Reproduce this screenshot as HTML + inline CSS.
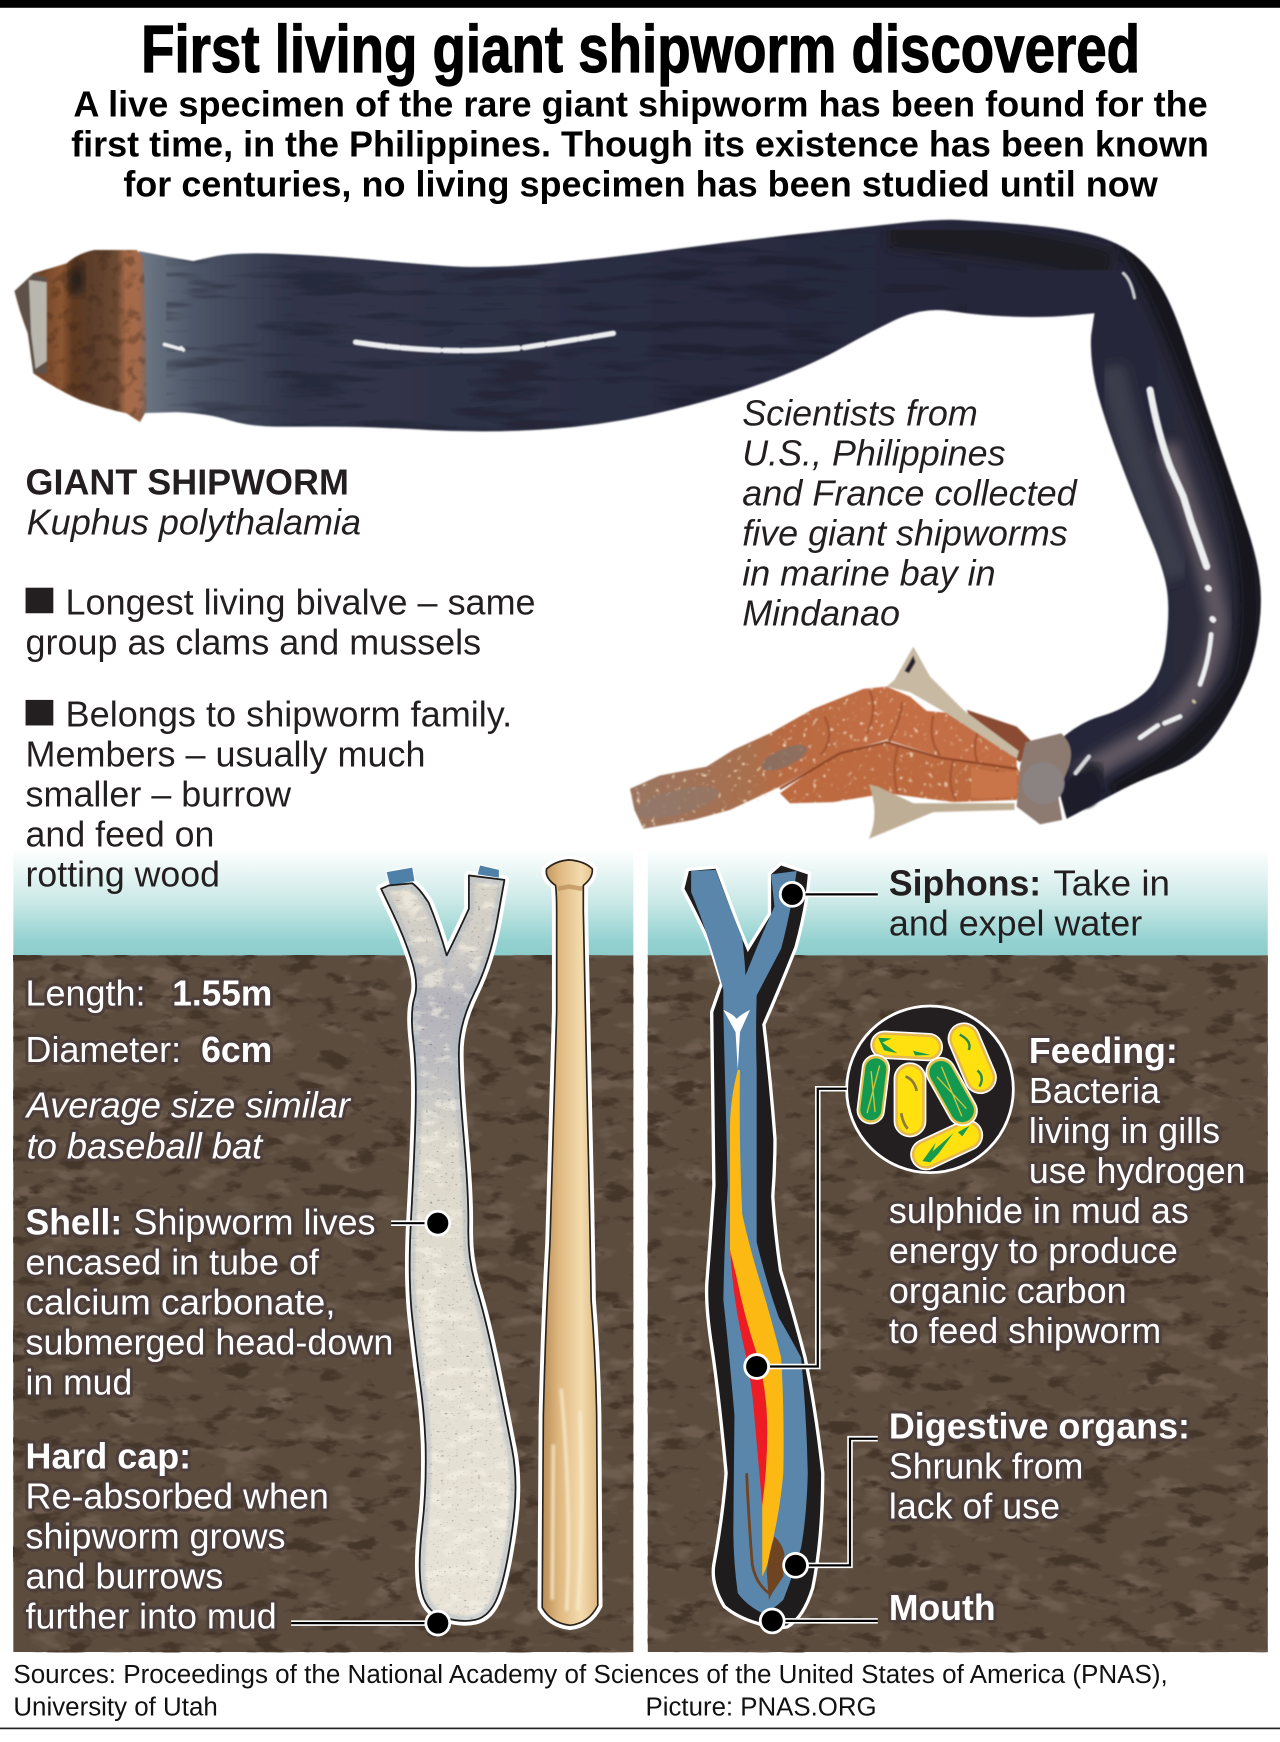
<!DOCTYPE html>
<html><head><meta charset="utf-8"><style>
html,body{margin:0;padding:0;background:#fff}
svg{display:block}
text{font-family:"Liberation Sans",sans-serif;font-size:32.5px;fill:#231f20}
.b{font-weight:bold}.i{font-style:italic}
.w text{fill:#fff;stroke:#4d3f3b;stroke-width:5.5px;paint-order:stroke;stroke-linejoin:round}
.f text{font-size:23.5px;fill:#111}
</style></head><body>
<svg width="1280" height="1742" viewBox="0 0 1152 1568" xmlns="http://www.w3.org/2000/svg" preserveAspectRatio="none">
<defs>
<linearGradient id="sky" x1="0" y1="0" x2="0" y2="1"><stop offset="0" stop-color="#fff"/><stop offset=".5" stop-color="#c8e8e6"/><stop offset=".85" stop-color="#94d2d1"/><stop offset="1" stop-color="#8ccccb"/></linearGradient>
<linearGradient id="body" gradientUnits="userSpaceOnUse" x1="125" y1="0" x2="1130" y2="0"><stop offset="0" stop-color="#6f7a86"/><stop offset=".05" stop-color="#4e5668"/><stop offset=".13" stop-color="#33374b"/><stop offset=".45" stop-color="#2b2d42"/><stop offset=".8" stop-color="#25263a"/><stop offset="1" stop-color="#2b2b3a"/></linearGradient>
<linearGradient id="cap" gradientUnits="userSpaceOnUse" x1="40" y1="0" x2="132" y2="0"><stop offset="0" stop-color="#7a4a2c"/><stop offset=".17" stop-color="#8c5733"/><stop offset=".28" stop-color="#5f3a22"/><stop offset=".44" stop-color="#5c3d2a"/><stop offset=".71" stop-color="#6d4a33"/><stop offset=".8" stop-color="#a86c48"/><stop offset=".92" stop-color="#a46a4c"/><stop offset="1" stop-color="#7d6a62"/></linearGradient>
<linearGradient id="bat" x1="0" y1="0" x2="1" y2="0"><stop offset="0" stop-color="#b98d57"/><stop offset=".3" stop-color="#dfb87f"/><stop offset=".7" stop-color="#f3dbae"/><stop offset="1" stop-color="#ddb880"/></linearGradient>
<linearGradient id="shellg" x1="0" y1="0" x2="0" y2="1"><stop offset="0" stop-color="#d9d5c8"/><stop offset=".1" stop-color="#cfccc6"/><stop offset=".17" stop-color="#b3b2ba"/><stop offset=".25" stop-color="#bcbcc0"/><stop offset=".36" stop-color="#dcd8cb"/><stop offset=".7" stop-color="#e4dfd3"/><stop offset="1" stop-color="#e8e3d7"/></linearGradient>
<linearGradient id="gill" gradientUnits="userSpaceOnUse" x1="567" y1="0" x2="800" y2="0"><stop offset="0" stop-color="#9a7562"/><stop offset=".45" stop-color="#a8704f"/><stop offset=".6" stop-color="#b96b42"/><stop offset="1" stop-color="#c46e45"/></linearGradient>
<filter id="soil" x="0" y="0" width="100%" height="100%" color-interpolation-filters="sRGB"><feTurbulence type="fractalNoise" baseFrequency=".035 .075" numOctaves="4" seed="7"/><feColorMatrix values="0 0 0 0 .27  0 0 0 0 .21  0 0 0 0 .165  6 0 0 0 -3.4"/></filter>
<filter id="soil2" x="0" y="0" width="100%" height="100%" color-interpolation-filters="sRGB"><feTurbulence type="fractalNoise" baseFrequency=".03 .06" numOctaves="3" seed="21"/><feColorMatrix values="0 0 0 0 .43  0 0 0 0 .365  0 0 0 0 .31  0 5 0 0 -2.8"/></filter>
<filter id="spk" x="0" y="0" width="100%" height="100%" color-interpolation-filters="sRGB"><feTurbulence type="fractalNoise" baseFrequency=".3 .5" numOctaves="2" seed="4"/><feColorMatrix values="0 0 0 0 .35  0 0 0 0 .33  0 0 0 0 .3  5 0 0 0 -3.3"/></filter>
<filter id="mot" x="0" y="0" width="100%" height="100%" color-interpolation-filters="sRGB"><feTurbulence type="fractalNoise" baseFrequency=".05 .1" numOctaves="3" seed="11"/><feColorMatrix values="0 0 0 0 .97  0 0 0 0 .95  0 0 0 0 .9  0 5 0 0 -2.6"/></filter>
<filter id="wst" x="0" y="0" width="100%" height="100%" color-interpolation-filters="sRGB"><feTurbulence type="fractalNoise" baseFrequency=".012 .09" numOctaves="3" seed="3"/><feColorMatrix values="0 0 0 0 .09  0 0 0 0 .09  0 0 0 0 .14  5 0 0 0 -2.6"/></filter>
<filter id="gsp" x="0" y="0" width="100%" height="100%" color-interpolation-filters="sRGB"><feTurbulence type="fractalNoise" baseFrequency=".22" numOctaves="2" seed="9"/><feColorMatrix values="0 0 0 0 .92  0 0 0 0 .82  0 0 0 0 .68  7 0 0 0 -4.6"/></filter>
<filter id="cn" x="0" y="0" width="100%" height="100%" color-interpolation-filters="sRGB"><feTurbulence type="fractalNoise" baseFrequency=".09" numOctaves="3" seed="5"/><feColorMatrix values="0 0 0 0 .2  0 0 0 0 .12  0 0 0 0 .08  5 0 0 0 -2.6"/></filter>
<filter id="s05"><feGaussianBlur stdDeviation=".6"/></filter>
<filter id="bl"><feGaussianBlur stdDeviation="1"/></filter>
<filter id="bl4"><feGaussianBlur stdDeviation="5"/></filter>
<path id="wormp" d="M125 226Q150 231 174 235Q192 231 192 231Q210 227 252 228.5Q294 230 330.5 233.5Q367 237 404 239.5Q441 242 496 237Q551 232 606 224.5Q661 217 716 211Q771 205 808 201Q845 197 863.5 198Q882 199 919.5 202Q957 205 979.5 210.5Q1002 216 1017 226.5Q1032 237 1044 256.5Q1056 276 1068 313.5Q1080 351 1096.5 399Q1113 447 1122 474Q1131 501 1133.5 520.5Q1136 540 1133.5 561Q1131 582 1125 600Q1119 618 1105.5 642Q1092 666 1080 676.5Q1068 687 1047 694.5Q1026 702 1011 710Q996 718 960 737L950 700L955 665Q972 650 991.5 644.5Q1011 639 1028 625.5Q1045 612 1049 582Q1053 552 1050.5 532.5Q1048 513 1034.5 481.5Q1021 450 1005.5 408Q990 366 985.5 343.5Q981 321 982 302L985 282L963 284Q942 286 912 285Q882 284 856 280Q830 276 804.5 288.5Q779 301 757 313.5Q735 326 698 340.5Q661 355 606 368.5Q551 382 496 386Q441 390 386 387Q331 384 300 384L250 384Q225 384 205.5 378Q186 372 159 371L125 372Z"/>
<path id="capp" d="M123 225L85 225Q70 228 60 237L30 246L13 262Q18 282 25 300L30 336Q50 350 72 360Q95 368 114 372L126 380L132 369Q132 300 129 232Z"/>
<path id="shp" d="M343 800L353.5 822Q364 844 370.5 864.5Q377 885 373 898Q369 911 372 937Q375 963 374 1002Q373 1041 370 1095.5Q367 1150 371 1186Q375 1222 378.5 1248Q382 1274 383 1300Q384 1340 380 1374Q376 1408 379 1429Q382 1450 398.5 1455.5Q415 1461 428 1458Q441 1455 448 1437Q455 1419 461 1377.5Q467 1336 461 1305Q455 1274 446 1230Q437 1186 429 1160Q421 1134 421.5 1105.5Q422 1077 417.5 1025Q413 973 413 947.5Q413 922 427 893.5Q441 865 447.5 828.5L454 792L422 788L422 818Q412 840 402 860Q395 835 386 813Q378 800 371 795L350 797Z"/>
<path id="batp" d="M492 782Q500 775 512 774Q526 775 533 782Q534 790 525 797Q525 805 525 820L529 1015Q531 1100 532 1170Q536 1220 537 1274L538 1445Q530 1461 513 1463Q496 1461 488 1447L489 1274Q491 1190 495 1118L501 911L501 820Q501 805 500 797Q490 790 492 782Z"/>
<clipPath id="shc"><use href="#shp"/></clipPath>
<clipPath id="wm"><use href="#wormp"/></clipPath>
<clipPath id="cpc"><use href="#capp"/></clipPath>
<clipPath id="gc"><path d="M567 710L594 698L636 690L660 675L693 660L732 638L777 620L798 618L819 627L834 640L858 642L879 654L915 684L921 702L915 720L858 722L798 714L750 722L711 723L702 714L657 729L624 738L579 746L571 729Z"/></clipPath>
</defs>
<rect width="1152" height="1568" fill="#fff"/>
<rect width="1152" height="7" fill="#000"/>

<!-- headline -->
<text x="127" y="65" class="b" style="font-size:60px;fill:#000;stroke:#000;stroke-width:1.1px" textLength="899" lengthAdjust="spacingAndGlyphs">First living giant shipworm discovered</text>
<text x="66" y="105" textLength="1021" lengthAdjust="spacingAndGlyphs" style="fill:#000;font-weight:bold">A live specimen of the rare giant shipworm has been found for the</text>
<text x="64" y="141" textLength="1024" lengthAdjust="spacingAndGlyphs" style="fill:#000;font-weight:bold">first time, in the Philippines. Though its existence has been known</text>
<text x="111" y="177" textLength="931" lengthAdjust="spacingAndGlyphs" style="fill:#000;font-weight:bold">for centuries, no living specimen has been studied until now</text>

<!-- worm photo -->
<g filter="url(#s05)">
<path d="M870 639L915 654L930 669L918 686L880 660Z" fill="#8a4c30"/>
<path d="M567 710L594 698L636 690L660 675L693 660L732 638L777 620L798 618L819 627L834 640L858 642L879 654L915 684L915 693L888 690L846 681L798 666L756 678L702 708L657 729L624 738L579 746L571 729Z" fill="url(#gill)"/>
<path d="M702 714L753 677L798 669L846 681L915 690L921 702L915 720L858 722L798 714L750 722L711 723Z" fill="#bd6a40"/>
<g clip-path="url(#gc)"><rect x="560" y="610" width="370" height="145" filter="url(#gsp)"/></g>
<ellipse cx="706" cy="682" rx="22" ry="8" fill="#7f6f68" opacity=".75" transform="rotate(-24 706 682)"/>
<ellipse cx="610" cy="722" rx="38" ry="11" fill="#8d7a6e" opacity=".6" transform="rotate(-14 610 722)"/>
<path d="M702 710L756 678L798 668L846 682L915 692" fill="none" stroke="#8e4526" stroke-width="2"/>
<path d="M783 622Q790 640 780 660M812 632Q810 650 800 668M840 644Q835 665 846 680M880 658Q875 672 880 688M808 672Q802 695 808 714M858 684Q852 705 860 720M898 692Q892 708 898 720M742 645Q752 665 738 680" fill="none" stroke="#a0512c" stroke-width="2.2" opacity=".8"/>
<path d="M874 690Q895 697 915 694L915 716Q895 720 874 718Z" fill="#c97448"/>
<path d="M822 582L805 612L798 618L819 623L852 642L915 683L917 676L867 639L837 609Z" fill="#c8b9a2"/>
<path d="M822 590L814 604L818 606L824 596Z" fill="#2b2230"/>
<path d="M782 706L790 708L822 723L913 723L913 729L840 731L782 755Q792 732 782 706Z" fill="#bfae96"/>
<use href="#wormp" fill="url(#body)"/>
<g clip-path="url(#wm)">
<rect x="150" y="195" width="720" height="200" filter="url(#wst)" opacity=".35"/>
<path d="M1015 215Q1050 270 1095 400Q1140 520 1118 610Q1085 670 1000 715" fill="none" stroke="#14151d" stroke-width="22" filter="url(#bl4)"/>
<path d="M800 210Q930 220 1000 240" fill="none" stroke="#1a1b24" stroke-width="28" filter="url(#bl4)"/>
<path d="M1050 400Q1090 510 1096 560Q1090 620 1040 660Q1000 680 970 700" fill="none" stroke="#5f5660" stroke-width="20" filter="url(#bl4)"/>
<path d="M1000 330Q1020 420 1060 520" fill="none" stroke="#3b3c4c" stroke-width="24" filter="url(#bl4)"/>
<path d="M990 690Q965 715 958 735" fill="none" stroke="#1b1c28" stroke-width="22" filter="url(#bl4)"/>
</g>
<path d="M923 668L955 660Q968 672 962 690L952 715L956 738L936 742L915 726L918 690Z" fill="#8d7a70"/>
<circle cx="939" cy="705" r="19" fill="#8b8282"/>
<circle cx="975" cy="712" r="16" fill="#1d1e2c" filter="url(#bl)"/>
<use href="#capp" fill="url(#cap)"/>
<g clip-path="url(#cpc)">
<rect x="10" y="220" width="125" height="165" filter="url(#cn)" opacity=".3"/>
<path d="M13 262L30 246L42 250L42 337L30 336L25 300Z" fill="#5d5148"/>
<path d="M26 252L42 254L42 325L32 332L28 300Z" fill="#b9b6ae"/>
<ellipse cx="69" cy="252" rx="7" ry="14" fill="#241b1c" filter="url(#bl4)"/>
</g>
</g>
<g fill="none" stroke="#eceeef" stroke-linecap="round" filter="url(#s05)">
<path d="M320 308Q400 320 470 313Q510 307 552 300" stroke-width="5" stroke-dasharray="26 3 10 3 34 4 14 3 50 5 18 4"/>
<path d="M148 310l14 4M163 313l2 2" stroke-width="3.5"/>
<path d="M1011 246Q1018 252 1021 268" stroke-width="3" stroke="#c9cbd0"/>
<path d="M1035 351Q1042 390 1053 420L1065 447L1072 470L1086 510" stroke-width="6.5"/>
<path d="M1087 529l1 1M1091 557l1 1" stroke-width="5.5"/>
<path d="M1090 571Q1088 595 1080 616" stroke-width="4.5"/>
<path d="M1074 631l1 1" stroke-width="3" stroke="#c9c09a"/>
<path d="M1062 645L1048 651M1042 653L1026 664" stroke-width="4.5"/>
<path d="M980 681L968 696" stroke-width="4" stroke="#d5d6da"/>
</g>

<!-- panels -->
<rect x="12" y="765" width="558" height="96" fill="url(#sky)"/>
<rect x="583" y="765" width="558" height="96" fill="url(#sky)"/>
<rect x="12" y="860" width="558" height="627" fill="#5b4c3e"/>
<rect x="12" y="860" width="558" height="627" filter="url(#soil2)"/>
<rect x="12" y="860" width="558" height="627" filter="url(#soil)"/>
<rect x="583" y="860" width="558" height="627" fill="#5b4c3e"/>
<rect x="583" y="860" width="558" height="627" filter="url(#soil2)"/>
<rect x="583" y="860" width="558" height="627" filter="url(#soil)"/>

<!-- shell -->
<use href="#shp" fill="none" stroke="#fff" stroke-width="8.5" stroke-linejoin="round"/>
<path d="M348 785L371 781L373 793L351 797Z" fill="#4f80a8" stroke="#fff" stroke-width="2" paint-order="stroke"/>
<path d="M432 779L449 783L449 790L430 787Z" fill="#4f80a8" stroke="#fff" stroke-width="2" paint-order="stroke"/>
<use href="#shp" fill="url(#shellg)"/>
<g clip-path="url(#shc)">
<rect x="340" y="775" width="130" height="695" filter="url(#mot)" opacity=".6"/>
<rect x="340" y="775" width="130" height="695" filter="url(#spk)" opacity=".45"/>
<use href="#shp" fill="none" stroke="#a9b5c2" stroke-width="10" filter="url(#bl)" opacity=".45"/>
</g>
<use href="#shp" fill="none" stroke="#1d1d1d" stroke-width="1.6" stroke-linejoin="round"/>

<!-- bat -->
<use href="#batp" fill="none" stroke="#fff" stroke-width="8.5" stroke-linejoin="round"/>
<use href="#batp" fill="url(#bat)"/>
<path d="M505 1250Q515 1360 510 1450M522 1270Q526 1360 520 1450M498 1300L497 1440" fill="none" stroke="#f8ecd0" stroke-width="3.5" opacity=".7" filter="url(#bl)"/>
<path d="M502 800L512 798L524 800" fill="none" stroke="#b98d57" stroke-width="4" opacity=".7"/>
<use href="#batp" fill="none" stroke="#2a231c" stroke-width="1.5" stroke-linejoin="round"/>

<!-- right worm -->
<path d="M616 800L620 784L644 782L665 838L673 857L694 823L694 787L703 779L727 787Q725 815 715 852Q700 890 686 922Q692 972 696 1025Q696 1050 694 1077Q696 1110 701 1144Q712 1180 723 1222Q733 1270 739 1326Q739 1385 730 1429Q722 1455 708 1463Q695 1465 683 1460Q665 1455 653 1445Q641 1425 644 1408Q652 1365 655 1326Q648 1250 641 1205Q636 1170 638 1150Q642 1100 644 1067L642 911L651 885Q645 865 640 849Q628 822 616 800Z" fill="#1f1c1e" stroke="#fff" stroke-width="6" stroke-linejoin="round" paint-order="stroke"/>
<path d="M622 784L644 783Q656 815 668 844Q670 862 671 878Q684 845 697 816L694 787L717 784Q712 820 703 854Q692 875 681 896Q680 930 681 963L681 1118Q690 1155 701 1186Q712 1205 721 1222Q726 1275 727 1326Q726 1365 721 1393Q713 1420 705 1440Q695 1450 686 1452Q672 1445 664 1434Q660 1405 660 1377L661 1274Q656 1215 651 1170Q652 1115 655 1067L651 911L651 891Q644 865 637 844Q630 822 622 803Z" fill="#5a86ab"/>
<path d="M664 963Q657 990 657 1015L657 1129Q664 1180 675 1222Q682 1250 686 1274L686 1419Q692 1408 694 1393Q702 1360 705 1326Q706 1270 703 1222Q695 1190 686 1160Q675 1125 668 1093Q665 1030 666 963Z" fill="#fdb913"/>
<path d="M657 1125Q660 1170 668 1205Q676 1240 678 1265Q682 1310 686 1355Q692 1310 690 1270Q688 1240 680 1215Q670 1185 663 1150Z" fill="#ed1c24"/>
<path d="M651 909Q660 913 663 917Q667 913 675 909L666 929L664 963L662 929Z" fill="#fff"/>
<path d="M692 1440L690 1414Q692 1398 697 1383Q703 1388 706 1398L705 1419L695 1434Z" fill="#6e4423"/>
<path d="M672 1326Q674 1370 677 1408Q680 1425 692 1434" fill="none" stroke="#6e4423" stroke-width="2.5"/>

<!-- bacteria -->
<circle cx="837" cy="980.5" r="75" fill="#231f20" stroke="#fff" stroke-width="2.5"/>
<g>
<g transform="translate(816 941.5) rotate(3)"><rect x="-32" y="-12" width="64" height="24" rx="12" fill="#e6b850" stroke="#fff" stroke-width="1.5"/><rect x="-29" y="-9" width="58" height="18" rx="9" fill="#ffe10f"/><path d="M-26 -6L-14 -6L-22 -2L-8 7L-20 5ZM6 4L22 7L8 8Z" fill="#169a4c"/></g>
<g transform="translate(875 952.5) rotate(67)"><rect x="-33" y="-14" width="66" height="28" rx="14" fill="#e6b850" stroke="#fff" stroke-width="1.5"/><rect x="-30" y="-11" width="60" height="22" rx="11" fill="#ffe10f"/><path d="M-24 2Q-14 -6 -8 0M12 0Q20 -4 26 4" fill="none" stroke="#2f8a4a" stroke-width="2.2"/></g>
<g transform="translate(819 990)"><rect x="-14" y="-33" width="28" height="66" rx="14" fill="#e6b850" stroke="#fff" stroke-width="1.5"/><rect x="-11" y="-30" width="22" height="60" rx="11" fill="#ffe10f"/><path d="M-4 -21Q4 -18 6 -8M-8 12Q-6 22 -2 26" fill="none" stroke="#8c7a3a" stroke-width="2.4"/></g>
<g transform="translate(852 1030.5) rotate(-25)"><rect x="-34" y="-13.5" width="68" height="27" rx="13.5" fill="#e6b850" stroke="#fff" stroke-width="1.5"/><rect x="-31" y="-10.5" width="62" height="21" rx="10.5" fill="#ffe10f"/><path d="M-26 4L-8 -6L-14 0L10 -7L-10 4L-20 8ZM14 -6L26 -7L16 -1Z" fill="#169a4c"/></g>
<g transform="translate(786 980.5) rotate(97)"><rect x="-31" y="-12" width="62" height="24" rx="12" fill="#e0c24a" stroke="#fff" stroke-width="1.5"/><rect x="-28" y="-9.5" width="56" height="19" rx="9.5" fill="#149a50"/><path d="M-22 -3L22 3M-16 4L20 -4" stroke="#d6c43c" stroke-width="1.2"/></g>
<g transform="translate(856.5 982.5) rotate(60.6)"><rect x="-33" y="-13" width="66" height="26" rx="13" fill="#e0c24a" stroke="#fff" stroke-width="1.5"/><rect x="-30" y="-10.5" width="60" height="21" rx="10.5" fill="#149a50"/><path d="M-24 -3L24 3M-18 5L20 -4" stroke="#d6c43c" stroke-width="1.2"/></g>
</g>

<!-- callouts -->
<g fill="none" stroke-linejoin="miter">
<g stroke="#fff" stroke-width="5">
<path d="M352 1101H394M262 1461H394M715 805H790M681 1230H736V980H762M716 1409H765V1295H790M695 1459H790"/>
</g>
<g stroke="#000" stroke-width="2">
<path d="M352 1101H394M262 1461H394M715 805H790M681 1230H736V980H762M716 1409H765V1295H790M695 1459H790"/>
</g>
</g>
<g fill="#000" stroke="#fff" stroke-width="5" paint-order="stroke">
<circle cx="394" cy="1101" r="9.5"/><circle cx="394" cy="1461" r="9.5"/><circle cx="713" cy="805" r="9.5"/><circle cx="681" cy="1230" r="9.5"/><circle cx="716" cy="1409" r="9.5"/><circle cx="695" cy="1459" r="9.5"/>
</g>

<!-- dark text -->
<text x="23" y="445" class="b" textLength="291" lengthAdjust="spacingAndGlyphs">GIANT SHIPWORM</text>
<text x="24" y="481" class="i" textLength="301" lengthAdjust="spacingAndGlyphs">Kuphus polythalamia</text>
<rect x="23" y="529" width="25" height="23" fill="#231f20"/>
<text x="59" y="553" textLength="423" lengthAdjust="spacingAndGlyphs">Longest living bivalve – same</text>
<text x="23" y="589" textLength="410" lengthAdjust="spacingAndGlyphs">group as clams and mussels</text>
<rect x="23" y="630" width="25" height="23" fill="#231f20"/>
<text x="59" y="654" textLength="402" lengthAdjust="spacingAndGlyphs">Belongs to shipworm family.</text>
<text x="23" y="690" textLength="360" lengthAdjust="spacingAndGlyphs">Members – usually much</text>
<text x="23" y="726" textLength="239" lengthAdjust="spacingAndGlyphs">smaller – burrow</text>
<text x="23" y="762" textLength="170" lengthAdjust="spacingAndGlyphs">and feed on</text>
<text x="23" y="798" textLength="175" lengthAdjust="spacingAndGlyphs">rotting wood</text>
<text x="668" y="383" class="i" textLength="212" lengthAdjust="spacingAndGlyphs">Scientists from</text>
<text x="668" y="419" class="i" textLength="237" lengthAdjust="spacingAndGlyphs">U.S., Philippines</text>
<text x="668" y="455" class="i" textLength="301" lengthAdjust="spacingAndGlyphs">and France collected</text>
<text x="668" y="491" class="i" textLength="293" lengthAdjust="spacingAndGlyphs">five giant shipworms</text>
<text x="668" y="527" class="i" textLength="228" lengthAdjust="spacingAndGlyphs">in marine bay in</text>
<text x="668" y="563" class="i" textLength="142" lengthAdjust="spacingAndGlyphs">Mindanao</text>
<text x="800" y="806" class="b" textLength="137" lengthAdjust="spacingAndGlyphs">Siphons:</text>
<text x="948" y="806" textLength="105" lengthAdjust="spacingAndGlyphs">Take in</text>
<text x="800" y="842" textLength="228" lengthAdjust="spacingAndGlyphs">and expel water</text>

<!-- white text -->
<g class="w">
<text x="23" y="905" textLength="108" lengthAdjust="spacingAndGlyphs">Length:</text>
<text x="155" y="905" class="b" textLength="90" lengthAdjust="spacingAndGlyphs">1.55m</text>
<text x="23" y="956" textLength="140" lengthAdjust="spacingAndGlyphs">Diameter:</text>
<text x="181" y="956" class="b" textLength="64" lengthAdjust="spacingAndGlyphs">6cm</text>
<text x="24" y="1006" class="i" textLength="291" lengthAdjust="spacingAndGlyphs">Average size similar</text>
<text x="24" y="1043" class="i" textLength="212" lengthAdjust="spacingAndGlyphs">to baseball bat</text>
<text x="23" y="1111" class="b" textLength="87" lengthAdjust="spacingAndGlyphs">Shell:</text>
<text x="120" y="1111" textLength="218" lengthAdjust="spacingAndGlyphs">Shipworm lives</text>
<text x="23" y="1147" textLength="264" lengthAdjust="spacingAndGlyphs">encased in tube of</text>
<text x="23" y="1183" textLength="279" lengthAdjust="spacingAndGlyphs">calcium carbonate,</text>
<text x="23" y="1219" textLength="331" lengthAdjust="spacingAndGlyphs">submerged head-down</text>
<text x="23" y="1255" textLength="96" lengthAdjust="spacingAndGlyphs">in mud</text>
<text x="23" y="1322" class="b" textLength="149" lengthAdjust="spacingAndGlyphs">Hard cap:</text>
<text x="23" y="1358" textLength="273" lengthAdjust="spacingAndGlyphs">Re-absorbed when</text>
<text x="23" y="1394" textLength="234" lengthAdjust="spacingAndGlyphs">shipworm grows</text>
<text x="23" y="1430" textLength="178" lengthAdjust="spacingAndGlyphs">and burrows</text>
<text x="23" y="1466" textLength="226" lengthAdjust="spacingAndGlyphs">further into mud</text>
<text x="926" y="957" class="b" textLength="134" lengthAdjust="spacingAndGlyphs">Feeding:</text>
<text x="926" y="993" textLength="118" lengthAdjust="spacingAndGlyphs">Bacteria</text>
<text x="926" y="1029" textLength="172" lengthAdjust="spacingAndGlyphs">living in gills</text>
<text x="926" y="1065" textLength="195" lengthAdjust="spacingAndGlyphs">use hydrogen</text>
<text x="800" y="1101" textLength="270" lengthAdjust="spacingAndGlyphs">sulphide in mud as</text>
<text x="800" y="1137" textLength="260" lengthAdjust="spacingAndGlyphs">energy to produce</text>
<text x="800" y="1173" textLength="214" lengthAdjust="spacingAndGlyphs">organic carbon</text>
<text x="800" y="1209" textLength="245" lengthAdjust="spacingAndGlyphs">to feed shipworm</text>
<text x="800" y="1295" class="b" textLength="271" lengthAdjust="spacingAndGlyphs">Digestive organs:</text>
<text x="800" y="1331" textLength="175" lengthAdjust="spacingAndGlyphs">Shrunk from</text>
<text x="800" y="1367" textLength="154" lengthAdjust="spacingAndGlyphs">lack of use</text>
<text x="800" y="1458" class="b" textLength="96" lengthAdjust="spacingAndGlyphs">Mouth</text>
</g>

<!-- footer -->
<g class="f">
<text x="12" y="1515" textLength="1039" lengthAdjust="spacingAndGlyphs">Sources: Proceedings of the National Academy of Sciences of the United States of America (PNAS),</text>
<text x="12" y="1544" textLength="184" lengthAdjust="spacingAndGlyphs">University of Utah</text>
<text x="581" y="1544" textLength="208" lengthAdjust="spacingAndGlyphs">Picture: PNAS.ORG</text>
</g>
<rect x="0" y="1555" width="1152" height="1.5" fill="#222"/>
</svg>
</body></html>
